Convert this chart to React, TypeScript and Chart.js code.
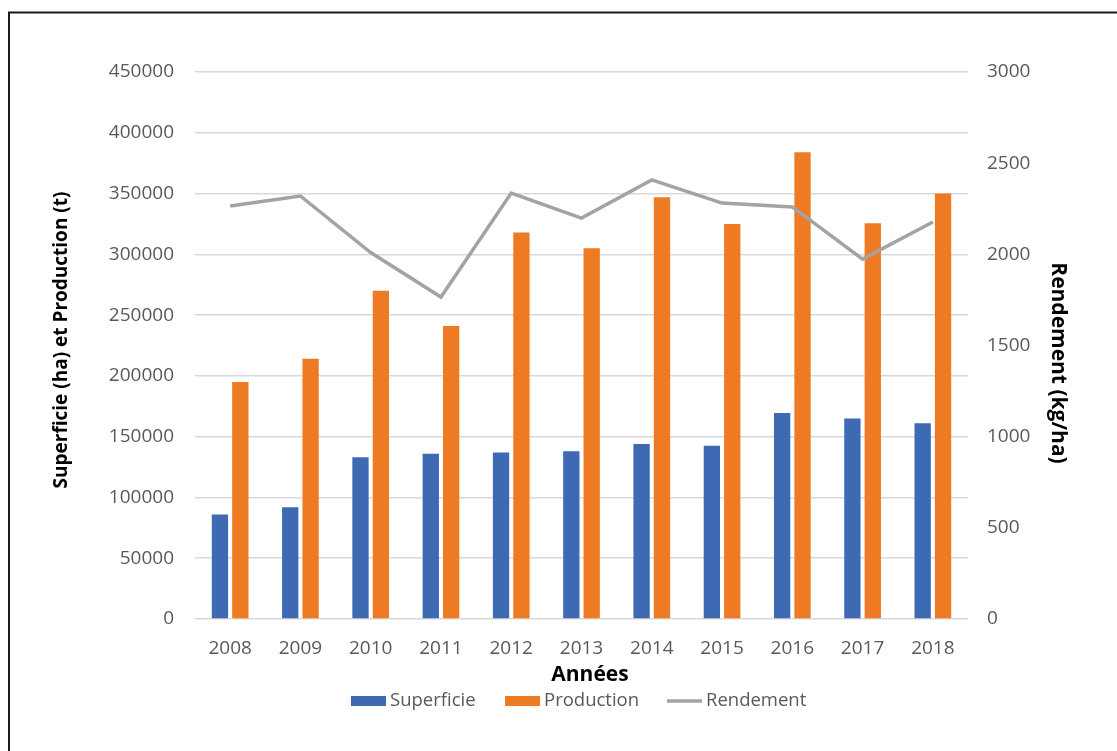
import React, { useEffect, useRef } from "react";
import { Chart, registerables } from "chart.js";

Chart.register(...registerables);

const years = ["2008", "2009", "2010", "2011", "2012", "2013", "2014", "2015", "2016", "2017", "2018"];
const superficie = [86000, 92000, 133000, 136000, 137000, 138000, 144000, 142500, 169500, 165000, 161000];
const production = [195000, 214000, 270000, 241000, 318000, 305000, 347000, 325000, 384000, 325500, 350000];
const rendement = [2265, 2320, 2010, 1766, 2336, 2199, 2408, 2281, 2260, 1974, 2177];

const leftTitle = "Superficie (ha) et Production (t)";
const rightTitle = "Rendement (kg/ha)";
const xTitle = "Années";

const FONT = "'Open Sans', 'Liberation Sans', sans-serif";
const TICK_COLOR = "#595959";
const BLUE = "#3d6ab3";
const ORANGE = "#ee7b24";
const GREY = "#a3a3a3";

const decorPlugin = {
  id: "decor",
  afterDraw(chart: any) {
    const ctx = chart.ctx as CanvasRenderingContext2D;
    ctx.save();
    // frame
    ctx.strokeStyle = "#1a1a1a";
    ctx.lineWidth = 2;
    ctx.beginPath();
    ctx.moveTo(9, 800);
    ctx.lineTo(9, 12.5);
    ctx.lineTo(1200, 12.5);
    ctx.stroke();

    // axis titles
    ctx.fillStyle = "#000";
    ctx.textAlign = "center";
    ctx.textBaseline = "middle";
    ctx.font = `bold 19px ${FONT}`;
    ctx.save();
    ctx.translate(62, 340);
    ctx.rotate(-Math.PI / 2);
    ctx.fillText(leftTitle, 0, 0);
    ctx.restore();
    ctx.font = `bold 21px ${FONT}`;
    ctx.save();
    ctx.translate(1058, 363);
    ctx.rotate(Math.PI / 2);
    ctx.fillText(rightTitle, 0, 0);
    ctx.restore();
    ctx.font = `bold 21px ${FONT}`;
    ctx.fillText(xTitle, 590, 675);

    // legend
    const ds = chart.data.datasets;
    const items = [
      { x: 351, label: ds[0].label, color: ds[0].backgroundColor, kind: "box" },
      { x: 505, label: ds[1].label, color: ds[1].backgroundColor, kind: "box" },
      { x: 667, label: ds[2].label, color: ds[2].borderColor, kind: "line" },
    ];
    ctx.font = `18.5px ${FONT}`;
    ctx.textAlign = "left";
    const ly = 701;
    for (const it of items) {
      if (it.kind === "box") {
        ctx.fillStyle = it.color;
        ctx.fillRect(it.x, ly - 5, 35, 10);
      } else {
        ctx.strokeStyle = it.color;
        ctx.lineWidth = 3.5;
        ctx.beginPath();
        ctx.moveTo(it.x, ly);
        ctx.lineTo(it.x + 35, ly);
        ctx.stroke();
      }
      ctx.fillStyle = TICK_COLOR;
      ctx.fillText(it.label, it.x + 39, ly);
    }
    ctx.restore();
  },
};

const plain = (v: any) => String(v);

export default function App() {
  const ref = useRef<HTMLCanvasElement | null>(null);
  useEffect(() => {
    if (!ref.current) return;
    const chart = new Chart(ref.current, {
      type: "bar",
      data: {
        labels: years,
        datasets: [
          {
            type: "bar",
            label: "Superficie",
            data: superficie,
            backgroundColor: BLUE,
            yAxisID: "y",
            order: 2,
            categoryPercentage: 0.58,
            barPercentage: 0.8,
          },
          {
            type: "bar",
            label: "Production",
            data: production,
            backgroundColor: ORANGE,
            yAxisID: "y",
            order: 2,
            categoryPercentage: 0.58,
            barPercentage: 0.8,
          },
          {
            type: "line",
            label: "Rendement",
            data: rendement,
            borderColor: GREY,
            backgroundColor: GREY,
            borderWidth: 3.5,
            pointRadius: 0,
            tension: 0,
            yAxisID: "y1",
            order: 1,
          } as any,
        ],
      },
      options: {
        animation: false,
        responsive: false,
        devicePixelRatio: 1,
        layout: { padding: { left: 0, right: 0, top: 72, bottom: 92 } },
        plugins: { legend: { display: false }, tooltip: { enabled: false } },
        scales: {
          x: {
            grid: { display: false, drawTicks: false },
            border: { display: false },
            ticks: { font: { family: FONT, size: 19 }, color: TICK_COLOR, padding: 18 },
            afterFit: (s: any) => {
              s.height = 40;
            },
          },
          y: {
            position: "left",
            min: 0,
            max: 450000,
            ticks: { stepSize: 50000, font: { family: FONT, size: 19 }, color: TICK_COLOR, padding: 21, callback: plain },
            grid: { color: "#d9d9d9", lineWidth: 1.5, drawTicks: false },
            border: { display: false },
            afterFit: (s: any) => {
              s.width = 195;
            },
          },
          y1: {
            position: "right",
            min: 0,
            max: 3000,
            ticks: { stepSize: 500, font: { family: FONT, size: 19 }, color: TICK_COLOR, padding: 19, callback: plain },
            grid: { drawOnChartArea: false, drawTicks: false },
            border: { display: false },
            afterFit: (s: any) => {
              s.width = 149;
            },
          },
        },
      },
      plugins: [decorPlugin],
    });
    return () => chart.destroy();
  }, []);
  return (
    <div style={{ position: "absolute", left: 0, top: 0, width: 1117, height: 751, background: "#fff" }}>
      <canvas ref={ref} width={1117} height={751} style={{ display: "block" }} />
    </div>
  );
}
